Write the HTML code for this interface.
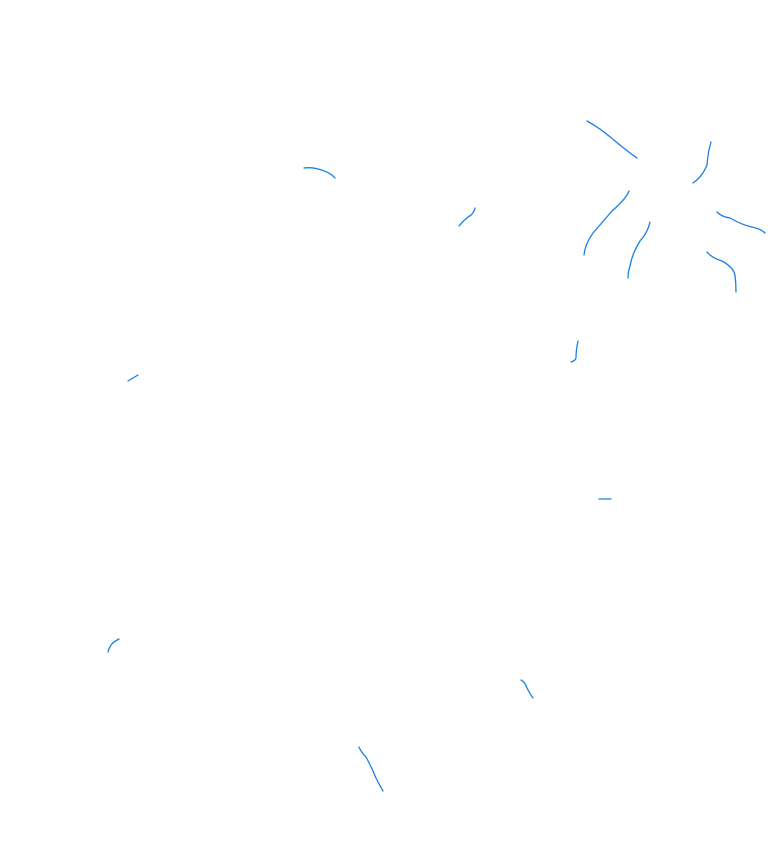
<!DOCTYPE html>
<html><head><meta charset="utf-8"><style>
html,body{margin:0;padding:0;background:#fff;}
svg{display:block;}
</style></head><body>
<svg width="768" height="866" viewBox="0 0 768 866" xmlns="http://www.w3.org/2000/svg">
<g fill="none" stroke="#1a7fe8" stroke-width="1.3" stroke-linecap="round" stroke-linejoin="round">
<path d="M587,121 Q600,128 615,141 Q627,151 637,158"/>
<path d="M711,142 Q708,152 707,165 Q702,177 693,183"/>
<path d="M304,168 Q312,167 318,169 Q330,172 335,178"/>
<path d="M475,208 Q474,214 468,217 Q463,221 459,226"/>
<path d="M629,191 Q626,199 612,211 Q600,225 593,233 Q585,244 584,255"/>
<path d="M717,212 Q722,217 730,218 Q742,225 752,227 Q761,229 765,233"/>
<path d="M650,222 Q648,232 640,241 Q632,254 630,266 Q628,272 628,278"/>
<path d="M707,252 Q712,258 722,261 Q733,267 735,275 Q736,283 736,292"/>
<path d="M578,341 Q576,350 576,358 Q575,361 571,362"/>
<path d="M128,381 L138,375"/>
<path d="M599,499 L611,499"/>
<path d="M119,639 Q113,642 111,645 Q109,648 108,652"/>
<path d="M521,680 Q525,682 527,688 Q530,694 533,698"/>
<path d="M359,747 Q361,752 366,757 Q372,768 376,778 Q380,786 383,791"/>
</g>
</svg>
</body></html>
